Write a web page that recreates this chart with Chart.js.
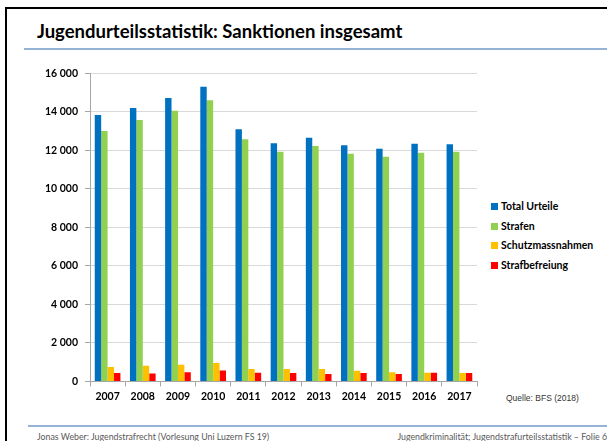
<!DOCTYPE html>
<html lang="de">
<head>
<meta charset="utf-8">
<title>Jugendurteilsstatistik</title>
<script src="https://cdn.jsdelivr.net/npm/chart.js@4/dist/chart.umd.min.js"></script>
<style>
  html, body { margin: 0; padding: 0; background: #fff; }
  body { width: 607px; height: 441px; position: relative; overflow: hidden; font-family: Lato, "Open Sans", sans-serif; }
  .frame { position: absolute; left: 5px; top: 7px; right: -10px; bottom: -10px; border-left: 2px solid #000; border-top: 2px solid #000; }
  .title { position: absolute; left: 37px; top: 20px; font-size: 18.5px; font-weight: 700; color: #000; white-space: nowrap; }
  .rule { position: absolute; left: 24px; right: 0; height: 2px; background: #95b3d7; }
  .chart-box { position: absolute; left: 30px; top: 60px; width: 450px; height: 350px; }
  .legend { position: absolute; left: 491px; top: 199px; font-size: 10.5px; font-weight: 700; color: #000; }
  .legend div { height: 19.5px; line-height: 14px; white-space: nowrap; }
  .legend span { display: inline-block; width: 7px; height: 7px; margin-right: 3px; vertical-align: 0; }
  .source { position: absolute; left: 506px; top: 393px; font: 8.5px "Liberation Sans", Arial, sans-serif; color: #333; white-space: nowrap; }
  .foot { position: absolute; top: 431px; font-size: 8.8px; color: #595959; white-space: nowrap; }
</style>
</head>
<body>
<div class="frame"></div>
<div class="title">Jugendurteilsstatistik: Sanktionen insgesamt</div>
<div class="rule" style="top:48px"></div>

<div class="chart-box"><canvas id="sanktionenChart"></canvas></div>
<div class="legend" id="legend"></div>
<div class="source">Quelle: BFS (2018)</div>

<div class="rule" style="top:425px; left:28px"></div>
<div class="foot" style="left:37px">Jonas Weber: Jugendstrafrecht (Vorlesung Uni Luzern FS 19)</div>
<div class="foot" style="right:0">Jugendkriminalität; Jugendstrafurteilsstatistik – Folie 6</div>

<script>
// ── data ──────────────────────────────────
const years = ['2007','2008','2009','2010','2011','2012','2013','2014','2015','2016','2017'];
const totalUrteile   = [13830, 14200, 14720, 15300, 13100, 12370, 12650, 12270, 12080, 12340, 12320];
const strafen        = [13000, 13580, 14050, 14600, 12580, 11920, 12230, 11820, 11670, 11870, 11920];
const schutzmassn    = [750, 810, 860, 950, 640, 640, 640, 550, 480, 445, 430];
const strafbefreiung = [430, 415, 480, 570, 445, 430, 380, 430, 380, 445, 430];
const seriesNames  = ['Total Urteile', 'Strafen', 'Schutzmassnahmen', 'Strafbefreiung'];
const seriesColors = ['#0070c0', '#92d050', '#ffc000', '#ff0000'];
const yTicks = [0, 2000, 4000, 6000, 8000, 10000, 12000, 14000, 16000];

const seriesData = [totalUrteile, strafen, schutzmassn, strafbefreiung];
const labelFont = { family: 'Lato, "Open Sans", sans-serif', size: 10.5, weight: 'bold' };
const fmt = v => String(v).replace(/\B(?=(\d{3})+(?!\d))/g, ' ');

// legend (html)
document.getElementById('legend').innerHTML = seriesNames
  .map((n, i) => `<div><span style="background:${seriesColors[i]}"></span>${n}</div>`)
  .join('');

new Chart(document.getElementById('sanktionenChart'), {
  type: 'bar',
  data: {
    labels: years,
    datasets: seriesNames.map((name, i) => ({
      label: name,
      data: seriesData[i],
      backgroundColor: seriesColors[i],
      categoryPercentage: 0.73,
      barPercentage: 1.0
    }))
  },
  options: {
    responsive: true,
    maintainAspectRatio: false,
    animation: false,
    layout: { padding: { left: 8, top: 13, right: 3, bottom: 3 } },
    plugins: { legend: { display: false }, tooltip: { enabled: false } },
    scales: {
      x: {
        grid: { drawOnChartArea: false, drawTicks: true, tickLength: 5, color: '#a6a6a6' },
        border: { color: '#a6a6a6' },
        ticks: { font: labelFont, color: '#000', padding: 4, maxRotation: 0 }
      },
      y: {
        min: 0,
        max: 16000,
        afterBuildTicks: axis => { axis.ticks = yTicks.map(v => ({ value: v })); },
        grid: { color: '#d9d9d9', tickLength: 5, tickColor: '#a6a6a6' },
        border: { color: '#a6a6a6' },
        ticks: { font: labelFont, color: '#000', padding: 7, callback: v => fmt(v) }
      }
    }
  }
});
</script>
</body>
</html>
